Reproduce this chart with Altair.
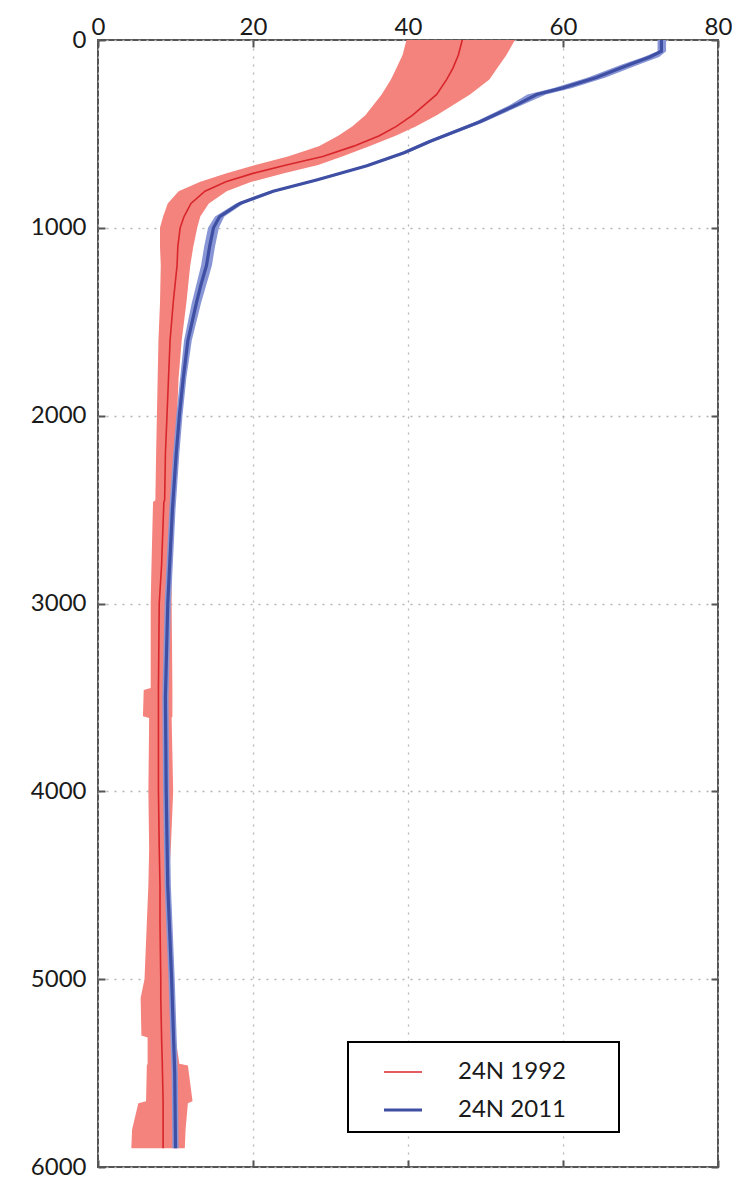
import altair as alt
import pandas as pd

# ---- 24N 1992 (red): depth, lower band, mean, upper band ----
red_depth = [0, 80, 150, 210, 290, 400, 460, 510, 565, 620, 665, 710, 755, 805, 870, 940,
             1000, 1100, 1200, 1400, 1600, 1800, 2000, 2200, 2450, 2460, 2800, 3000, 3450,
             3460, 3600, 3610, 4000, 4300, 4500, 4700, 5000, 5100, 5300, 5310, 5450, 5460,
             5650, 5660, 5800, 5900]
red_lo = [39.8, 39.3, 38.5, 37.8, 36.6, 34.5, 32.8, 31.0, 28.5, 24.5, 20.3, 16.6, 13.2, 10.4, 9.0, 8.4,
          8.0, 8.0, 8.1, 8.0, 7.8, 7.7, 7.6, 7.5, 7.4, 7.1, 6.9, 6.8, 6.8,
          5.9, 5.8, 6.6, 6.5, 6.6, 6.5, 6.3, 6.0, 5.5, 5.6, 6.4, 6.4, 6.3,
          6.2, 5.2, 4.4, 4.3]
red_mean = [47.0, 46.5, 45.8, 45.0, 43.7, 40.6, 38.5, 36.3, 33.0, 29.0, 24.3, 20.0, 16.5, 13.8, 12.0, 11.1,
            10.6, 10.3, 10.2, 9.7, 9.3, 9.1, 8.9, 8.7, 8.6, 8.5, 8.2, 7.9, 7.8,
            7.8, 7.8, 7.8, 7.8, 7.9, 8.0, 8.0, 8.1, 8.1, 8.2, 8.2, 8.3, 8.3,
            8.4, 8.4, 8.4, 8.4]
red_hi = [53.8, 52.7, 51.5, 50.5, 48.0, 43.7, 41.0, 38.4, 35.0, 31.5, 28.4, 24.0, 19.8, 16.6, 14.3, 13.2,
          12.8, 12.3, 11.9, 11.4, 10.8, 10.4, 10.2, 9.9, 9.6, 9.6, 9.5, 9.5, 9.6,
          9.6, 9.6, 9.5, 9.7, 9.4, 9.1, 9.2, 9.4, 9.5, 9.8, 10.0, 10.5, 11.6,
          12.2, 11.6, 11.3, 11.2]

# ---- 24N 2011 (blue): depth, mean, lower band, upper band ----
blue_depth = [0, 60, 90, 130, 200, 255, 290, 345, 435, 540, 600, 670, 745, 805, 870, 940,
              1000, 1100, 1200, 1300, 1400, 1600, 1800, 2000, 2200, 2500, 3000, 3500, 4000,
              4500, 5000, 5500, 5900]
blue_mean = [72.7, 72.7, 71.2, 68.6, 64.3, 60.0, 56.6, 54.0, 49.3, 42.8, 39.5, 34.7, 28.2, 22.6, 18.3, 15.7,
             14.9, 14.4, 14.0, 13.3, 12.7, 11.6, 11.0, 10.5, 10.1, 9.6, 9.0, 8.7, 8.8,
             9.0, 9.5, 9.9, 10.0]
blue_lo = [72.2, 72.2, 70.4, 67.6, 63.2, 58.8, 55.4, 53.2, 48.7, 42.3, 39.0, 34.2, 27.7, 22.1, 17.8, 15.1,
           14.2, 13.7, 13.3, 12.7, 12.1, 11.1, 10.6, 10.1, 9.7, 9.2, 8.6, 8.3, 8.4,
           8.6, 9.1, 9.5, 9.6]
blue_hi = [73.3, 73.3, 72.4, 69.8, 65.5, 61.2, 57.8, 54.8, 49.9, 43.3, 40.0, 35.2, 28.7, 23.1, 18.8, 16.3,
           15.6, 15.1, 14.7, 14.0, 13.3, 12.1, 11.4, 10.9, 10.5, 10.0, 9.4, 9.1, 9.2,
           9.4, 9.9, 10.3, 10.4]

series_names = ["24N 1992", "24N 2011"]
line_colors = ["#d8262c", "#3f4fa3"]
band_colors = ["#f4837d", "#8896d6"]

x_ticks = [0, 20, 40, 60, 80]
y_ticks = [0, 1000, 2000, 3000, 4000, 5000, 6000]

red_band_df = pd.DataFrame({"depth": red_depth, "lo": red_lo, "hi": red_hi})
blue_band_df = pd.DataFrame({"depth": blue_depth, "lo": blue_lo, "hi": blue_hi})
lines_df = pd.concat([
    pd.DataFrame({"series": series_names[0], "depth": red_depth, "value": red_mean}),
    pd.DataFrame({"series": series_names[1], "depth": blue_depth, "value": blue_mean}),
], ignore_index=True)

FONT = "Lato"
x_scale = alt.Scale(domain=[0, 80], nice=False, zero=False)
y_scale = alt.Scale(domain=[0, 6000], reverse=True, nice=False, zero=False)

common = dict(title=None, offset=-7, tickSize=7, domain=False, tickColor="#555",
              tickWidth=2, labelFont=FONT, labelFontSize=24, labelColor="#1a1a1a",
              labelOverlap=False, labelFlush=False, grid=True, gridDash=[2, 6],
              gridColor="#b5b5b5", gridWidth=1.3, format="d")
top_axis = alt.Axis(orient="top", values=x_ticks, labelPadding=1, **common)
left_axis = alt.Axis(orient="left", values=y_ticks, labelPadding=12, **common)

bottom_axis = alt.Axis(orient="bottom", values=x_ticks, title=None, offset=-7, tickSize=7,
                       domain=False, labels=False, grid=False, tickColor="#555", tickWidth=2)
right_axis = alt.Axis(orient="right", values=y_ticks, title=None, offset=-7, tickSize=7,
                      domain=False, labels=False, grid=False, tickColor="#555", tickWidth=2)

red_band = alt.Chart(red_band_df).mark_area(orient="horizontal", color=band_colors[0], opacity=1).encode(
    y=alt.Y("depth:Q", scale=y_scale, axis=left_axis),
    x=alt.X("lo:Q", scale=x_scale, axis=top_axis),
    x2="hi:Q",
)
blue_band = alt.Chart(blue_band_df).mark_area(orient="horizontal", color=band_colors[1], opacity=1).encode(
    y=alt.Y("depth:Q", scale=y_scale, axis=left_axis),
    x=alt.X("lo:Q", scale=x_scale, axis=top_axis),
    x2="hi:Q",
)

# trailing no-break spaces widen the legend box to the right; the zero-width
# space at the end keeps them from being trimmed
pad = "\u00a0" * 7 + "\u200b"
lines = alt.Chart(lines_df).mark_line().encode(
    y=alt.Y("depth:Q", scale=y_scale, axis=left_axis),
    x=alt.X("value:Q", scale=x_scale, axis=top_axis),
    color=alt.Color("series:N", scale=alt.Scale(domain=series_names, range=line_colors),
                    legend=alt.Legend(orient="none", legendX=250, legendY=1002, title=None,
                                      symbolType="stroke", symbolSize=1444, symbolStrokeWidth=2.2,
                                      labelFont=FONT, labelFontSize=24, labelColor="#1a1a1a",
                                      padding=10, symbolOffset=24, labelOffset=34, rowPadding=5,
                                      labelLimit=400,
                                      strokeColor="black", fillColor="white",
                                      labelExpr="datum.label + '" + pad + "'")),
    strokeWidth=alt.StrokeWidth("series:N", scale=alt.Scale(domain=series_names, range=[1.6, 3.2]),
                                legend=None),
    order=alt.Order("depth:Q"),
)

axis_layer = alt.Chart(lines_df).mark_point(opacity=0).encode(
    x=alt.X("value:Q", scale=x_scale, axis=bottom_axis),
    y=alt.Y("depth:Q", scale=y_scale, axis=right_axis),
)

chart = alt.layer(
    alt.layer(red_band, blue_band, lines),
    axis_layer,
).resolve_axis(x="independent", y="independent").properties(
    width=620, height=1127,
    padding={"left": 90, "top": 32, "right": 14, "bottom": 12},
    autosize=alt.AutoSizeParams(type="none"),
    background="white",
).configure_view(stroke="#555", strokeWidth=2).configure_legend(strokeWidth=2)

chart.save("out.html", embed_options={"renderer": "svg", "actions": False})
